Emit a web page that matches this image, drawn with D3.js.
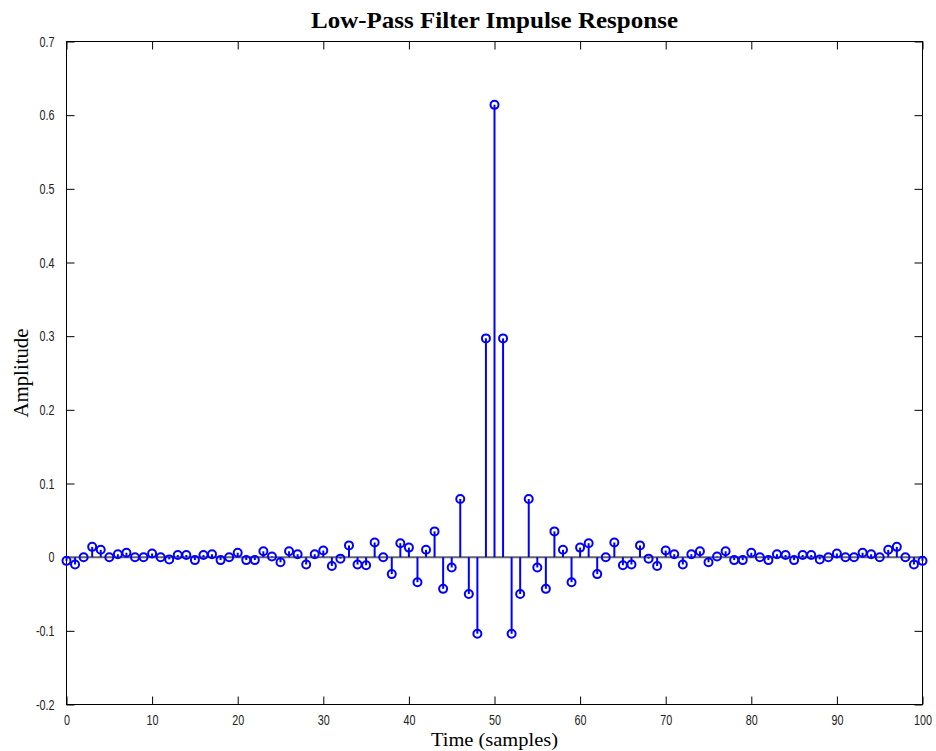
<!DOCTYPE html>
<html><head><meta charset="utf-8">
<script src="https://cdn.jsdelivr.net/npm/d3@7"></script>
<style>body{margin:0;background:#fff}</style>
</head><body>
<svg id="c" width="936" height="751"></svg>
<script>
const samples = d3.range(0, 101);
const amplitude = [
 -0.005,-0.010,0.000,0.014,0.010,0.000,0.004,0.006,0.000,0.000,
  0.005,0.000,-0.003,0.003,0.003,-0.004,0.003,0.004,-0.004,0.000,
  0.006,-0.004,-0.004,0.008,0.001,-0.007,0.008,0.004,-0.010,0.004,
  0.009,-0.012,-0.002,0.016,-0.010,-0.011,0.020,0.000,-0.023,0.019,
  0.013,-0.034,0.010,0.035,-0.043,-0.014,0.079,-0.050,-0.104,0.297,
  0.614,
  0.297,-0.104,-0.050,0.079,-0.014,-0.043,0.035,0.010,-0.034,0.013,
  0.019,-0.023,0.000,0.020,-0.011,-0.010,0.016,-0.002,-0.012,0.009,
  0.004,-0.010,0.004,0.008,-0.007,0.001,0.008,-0.004,-0.004,0.006,
  0.000,-0.004,0.004,0.003,-0.004,0.003,0.003,-0.003,0.000,0.005,
  0.000,0.000,0.006,0.004,0.000,0.010,0.014,0.000,-0.010,-0.005
];
const xTicks = [0,10,20,30,40,50,60,70,80,90,100];
const yTicks = [-0.2,-0.1,0,0.1,0.2,0.3,0.4,0.5,0.6,0.7];
const yTickLabels = ["-0.2","-0.1","0","0.1","0.2","0.3","0.4","0.5","0.6","0.7"];
const title = "Low-Pass Filter Impulse Response";
const xLabel = "Time (samples)";
const yLabel = "Amplitude";

const L = 66.5, R = 922.5, T = 41.5, B = 704.5;
const svg = d3.select("#c");
const x = d3.scaleLinear().domain([0,100]).range([L,R]);
const y = d3.scaleLinear().domain([-0.2,0.7]).range([B,T]);
const tickFont = "'Liberation Sans',Arial,sans-serif";
const serif = "'Liberation Serif','Times New Roman',serif";

svg.append("rect").attr("x",L).attr("y",T).attr("width",R-L).attr("height",B-T)
  .attr("fill","none").attr("stroke","#000").attr("stroke-width",1);

const xb = d3.axisBottom(x).tickValues(xTicks).tickSizeInner(-8).tickSizeOuter(0).tickPadding(10).tickFormat(d3.format("d"));
const xt = d3.axisTop(x).tickValues(xTicks).tickSizeInner(-8).tickSizeOuter(0).tickFormat("");
const yl = d3.axisLeft(y).tickValues(yTicks).tickSizeInner(-8).tickSizeOuter(0).tickPadding(12).tickFormat((d,i)=>yTickLabels[i]);
const yr = d3.axisRight(y).tickValues(yTicks).tickSizeInner(-8).tickSizeOuter(0).tickFormat("");
function styleAxis(g){
  g.select(".domain").remove();
  g.selectAll("line").attr("stroke","#000");
  g.selectAll("text").attr("font-family",tickFont).attr("font-size",15).attr("fill","#222")
    .each(function(){
      const w = this.getComputedTextLength();
      if (w > 0) d3.select(this).attr("textLength", w*0.72).attr("lengthAdjust","spacingAndGlyphs");
    });
}
svg.append("g").attr("transform",`translate(0,${B})`).call(xb).call(styleAxis);
svg.append("g").attr("transform",`translate(0,${T})`).call(xt).call(styleAxis);
svg.append("g").attr("transform",`translate(${L},0)`).call(yl).call(styleAxis);
svg.append("g").attr("transform",`translate(${R},0)`).call(yr).call(styleAxis);

svg.append("line").attr("x1",L).attr("x2",R).attr("y1",y(0)).attr("y2",y(0))
  .attr("stroke","#666").attr("stroke-width",2);

const data = samples.map((s,i)=>({s, v: amplitude[i]}));
svg.append("g").selectAll("line").data(data).join("line")
  .attr("x1",d=>x(d.s)).attr("x2",d=>x(d.s))
  .attr("y1",y(0)).attr("y2",d=>y(d.v))
  .attr("stroke","#0000ff").attr("stroke-width",2);
svg.append("g").selectAll("circle").data(data).join("circle")
  .attr("cx",d=>x(d.s)).attr("cy",d=>y(d.v)).attr("r",4)
  .attr("fill","none").attr("stroke","#0000ff").attr("stroke-width",2);

svg.append("text").attr("x",(L+R)/2).attr("y",28).attr("text-anchor","middle")
  .attr("font-family",serif).attr("font-weight","bold").attr("font-size",23)
  .attr("textLength",367).attr("lengthAdjust","spacingAndGlyphs").text(title);
svg.append("text").attr("x",(L+R)/2).attr("y",746).attr("text-anchor","middle")
  .attr("font-family",serif).attr("font-size",19)
  .attr("textLength",127).attr("lengthAdjust","spacingAndGlyphs").text(xLabel);
svg.append("text").attr("transform",`translate(28,${(T+B)/2}) rotate(-90)`).attr("text-anchor","middle")
  .attr("font-family",serif).attr("font-size",20)
  .attr("textLength",89).attr("lengthAdjust","spacingAndGlyphs").text(yLabel);
</script>
</body></html>
